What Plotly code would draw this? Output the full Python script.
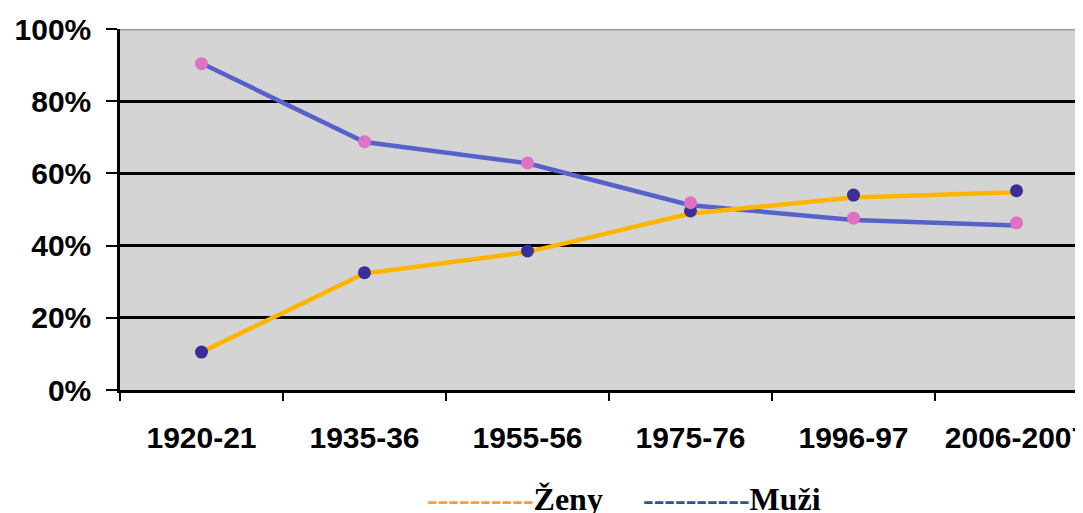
import plotly.graph_objects as go

categories = ["1920-21", "1935-36", "1955-56", "1975-76", "1996-97", "2006-2007"]
muzi_line = [90.5, 68.7, 62.8, 51.2, 47.1, 45.6]
zeny_line = [10.5, 32.3, 38.2, 48.9, 53.3, 54.8]
muzi_markers = [90.4, 68.8, 62.9, 51.9, 47.6, 46.3]
zeny_markers = [10.5, 32.5, 38.5, 49.6, 54.0, 55.2]
y_ticks = [0, 20, 40, 60, 80, 100]
y_labels = ["0%", "20%", "40%", "60%", "80%", "100%"]

# page body has an 8px offset; figure coordinates are page - 8
OFF = 8
W, H = 1083, 513
ml, mt = 120 - OFF, 29 - OFF
plot_bottom = 390 - OFF
mb = H - plot_bottom
plot_h = plot_bottom - mt
cat_w = 163.0
x_max = -0.5 + (W - ml) / cat_w

fig = go.Figure()
fig.add_trace(go.Scatter(x=categories, y=muzi_line, mode="lines",
                         line=dict(color="#5661C9", width=4.5), showlegend=False))
fig.add_trace(go.Scatter(x=categories, y=zeny_line, mode="lines",
                         line=dict(color="#FFB500", width=4.5), showlegend=False))
fig.add_trace(go.Scatter(x=categories, y=zeny_markers, mode="markers",
                         marker=dict(color="#3A2E98", size=13), showlegend=False))
fig.add_trace(go.Scatter(x=categories, y=muzi_markers, mode="markers",
                         marker=dict(color="#E070C4", size=13), showlegend=False))

fig.add_shape(type="line", xref="paper", yref="y", x0=0, x1=1, y0=100, y1=100,
              line=dict(color="#9A9A9A", width=3), layer="above")

def px_to_paper_y(page_py):
    return (plot_bottom - (page_py - OFF)) / plot_h

def px_to_paper_x(page_px):
    return (page_px - OFF - ml) / (W - ml)

fig.add_annotation(xref="paper", yref="paper", x=px_to_paper_x(425), y=px_to_paper_y(479),
                   xanchor="left", yanchor="top", showarrow=False,
                   text="<b><span style='color:#FF9A45'>----------</span>Ženy</b>",
                   font=dict(family="Liberation Serif", size=32, color="black"))
fig.add_annotation(xref="paper", yref="paper", x=px_to_paper_x(641), y=px_to_paper_y(479),
                   xanchor="left", yanchor="top", showarrow=False,
                   text="<b><span style='color:#2F5597'>----------</span>Muži</b>",
                   font=dict(family="Liberation Serif", size=32, color="black"))

fig.update_layout(
    width=W, height=H,
    margin=dict(l=ml, r=0, t=mt, b=mb, autoexpand=False),
    paper_bgcolor="white", plot_bgcolor="#D4D4D4",
    font=dict(family="Liberation Sans", color="black"),
    xaxis=dict(type="category", range=[-0.5, x_max], tickson="boundaries",
               ticks="outside", ticklen=8, tickwidth=2, tickcolor="black",
               showline=True, linecolor="black", linewidth=2.5, showgrid=False,
               tickfont=dict(family="Liberation Sans", size=30, color="black"),
               ticklabelstandoff=19, automargin=False),
    yaxis=dict(range=[0, 100], tickvals=y_ticks, ticktext=["<b>%s</b>" % t for t in y_labels],
               ticks="outside", ticklen=11, tickwidth=2, tickcolor="black",
               showline=True, linecolor="black", linewidth=2.5,
               showgrid=True, gridcolor="black", gridwidth=2.5, zeroline=False,
               tickfont=dict(family="Liberation Sans", size=30, color="black"),
               ticklabelstandoff=9, automargin=False),
)
fig.update_xaxes(ticktext=["<b>%s</b>" % c for c in categories], tickvals=categories)

fig.write_html("out.html")
